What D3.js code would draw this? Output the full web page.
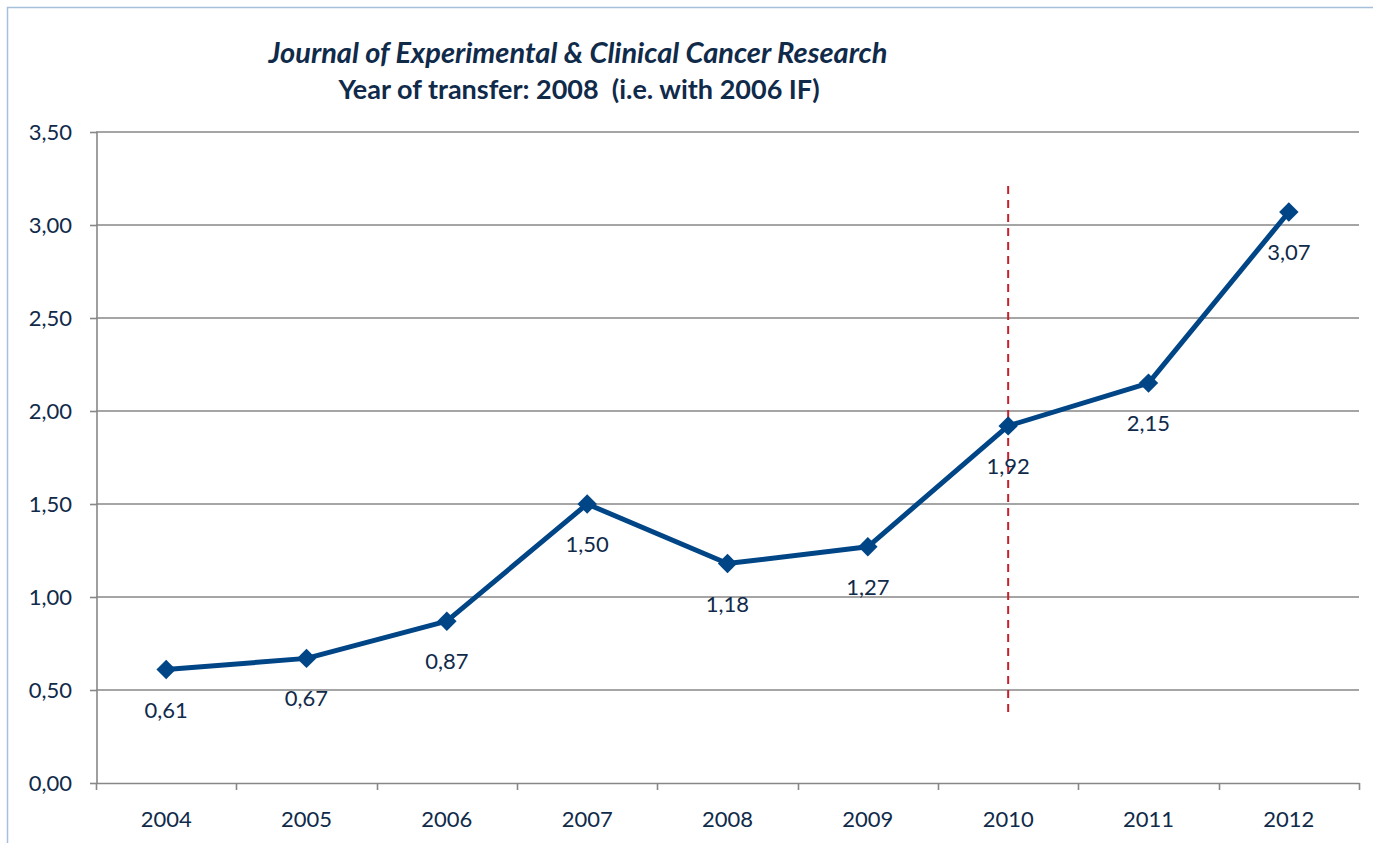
<!DOCTYPE html>
<html><head><meta charset="utf-8">
<script src="https://cdn.jsdelivr.net/npm/d3@7"></script>
<style>
html,body{margin:0;padding:0;background:#fff;}
svg{display:block;font-family:Lato,"Open Sans",sans-serif;}
</style></head>
<body>
<script>
const years = ["2004","2005","2006","2007","2008","2009","2010","2011","2012"];
const impactFactor = [0.61,0.67,0.87,1.50,1.18,1.27,1.92,2.15,3.07];
const yTicks = [0,0.5,1,1.5,2,2.5,3,3.5];
const titleLines = ["Journal of Experimental & Clinical Cancer Research","Year of transfer: 2008  (i.e. with 2006 IF)"];
const refLineYear = "2010";
const refLineRange = [0.38, 3.21];

const W = 1373, H = 843;
const svg = d3.select("body").append("svg").attr("width",W).attr("height",H);

// outer border
svg.append("rect").attr("x",7.5).attr("y",7.5).attr("width",W+20).attr("height",H+20)
  .attr("fill","none").attr("stroke","#a6c0dc").attr("stroke-width",1.5);

const x = d3.scaleBand().domain(years).range([96,1359]).padding(0);
const y = d3.scaleLinear().domain([0,3.5]).range([783,132]);

const textCol = "#102a4a";
const axisCol = "#878787";
const fs = 22;

// gridlines
svg.append("g").selectAll("line").data(yTicks.filter(d=>d>0)).join("line")
  .attr("x1",96).attr("x2",1359).attr("y1",d=>y(d)).attr("y2",d=>y(d))
  .attr("stroke",axisCol).attr("stroke-width",1.6);

// y axis
const yAxis = svg.append("g").attr("transform","translate(97,0)")
  .call(d3.axisLeft(y).tickValues(yTicks).tickSize(7).tickPadding(18)
    .tickFormat(d=>d3.format(".2f")(d).replace(".",",")));
yAxis.select(".domain").attr("stroke",axisCol).attr("stroke-width",1.6).attr("d","M0,"+y(3.5)+"V"+y(0));
yAxis.selectAll(".tick line").attr("stroke",axisCol).attr("stroke-width",1.6);
yAxis.selectAll(".tick text").attr("fill",textCol).attr("font-size",fs).attr("font-family","Lato, sans-serif");

// x axis
const xAxis = svg.append("g").attr("transform","translate(0,783)")
  .call(d3.axisBottom(x).tickSize(0).tickPadding(28));
xAxis.select(".domain").attr("stroke",axisCol).attr("stroke-width",1.6);
xAxis.selectAll(".tick text").attr("fill",textCol).attr("font-size",fs).attr("font-family","Lato, sans-serif");
// boundary ticks
const bounds = years.map(d=>x(d)).concat([x(years[years.length-1])+x.bandwidth()]);
svg.append("g").selectAll("line").data(bounds).join("line")
  .attr("x1",d=>Math.round(d)+0.5).attr("x2",d=>Math.round(d)+0.5).attr("y1",783).attr("y2",790)
  .attr("stroke",axisCol).attr("stroke-width",1.6);

// reference dashed line
const rx = x(refLineYear)+x.bandwidth()/2;
svg.append("line").attr("x1",rx).attr("x2",rx).attr("y1",y(refLineRange[1])).attr("y2",y(refLineRange[0]))
  .attr("stroke","#c8202a").attr("stroke-width",2).attr("stroke-dasharray","8,6");

// data line
const pts = years.map((d,i)=>({year:d, v:impactFactor[i]}));
const cx = d=>x(d.year)+x.bandwidth()/2;
svg.append("path").datum(pts)
  .attr("d",d3.line().x(cx).y(d=>y(d.v)))
  .attr("fill","none").attr("stroke","#004586").attr("stroke-width",5).attr("stroke-linejoin","round");

// markers
svg.append("g").selectAll("path").data(pts).join("path")
  .attr("transform",d=>`translate(${cx(d)},${y(d.v)})`)
  .attr("d",d3.symbol().type(d3.symbolDiamond2).size(240))
  .attr("fill","#004586");

// labels
svg.append("g").selectAll("text").data(pts).join("text")
  .attr("x",cx).attr("y",d=>y(d.v)+48)
  .attr("text-anchor","middle").attr("fill",textCol).attr("font-size",fs)
  .text(d=>d3.format(".2f")(d.v).replace(".",","));

// title
svg.append("text").attr("x",578).attr("y",63).attr("text-anchor","middle")
  .attr("font-size",29).attr("font-weight","bold").attr("font-style","italic").attr("fill",textCol)
  .text(titleLines[0]);
svg.append("text").attr("x",579).attr("y",99).attr("text-anchor","middle")
  .attr("font-size",27).attr("font-weight","bold").attr("fill",textCol)
  .style("white-space","pre")
  .text(titleLines[1]);
</script>
</body></html>
